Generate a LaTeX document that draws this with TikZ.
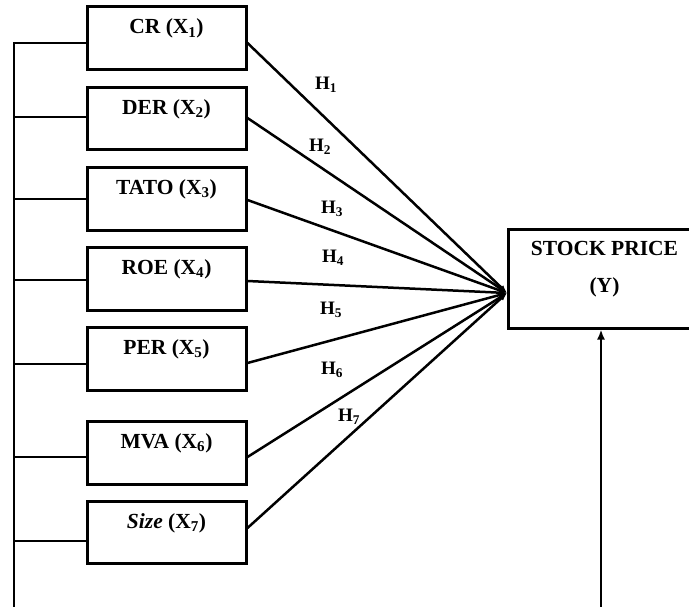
\documentclass[tikz,border=0pt]{standalone}
\usepackage{fontspec}
\setmainfont{Liberation Serif}
\usetikzlibrary{arrows.meta}
\begin{document}
\begin{tikzpicture}[x=1pt,y=-1pt,
  varbox/.style={draw,line width=3pt,minimum width=159pt,inner sep=0pt,
    text height=27pt,text depth=35.5pt,
    font=\fontsize{21.5}{25}\selectfont\bfseries},
  ybox/.style={draw,line width=3pt,minimum width=194pt,minimum height=98pt,inner sep=0pt},
  ytext/.style={anchor=base,inner sep=0pt,font=\fontsize{21.5}{25}\selectfont\bfseries},
  hlab/.style={inner sep=0pt,font=\fontsize{19}{22}\selectfont\bfseries},
  link/.style={line width=2.8pt},
  fan/.style={line width=2.5pt,-{Latex[length=8pt,width=6pt]}},
  up/.style={line width=2.5pt,-{Latex[length=10pt,width=8pt]}}]
\useasboundingbox (0,0) rectangle (689,607);

\node[varbox] (X1) at (166.5,38.25) {CR (X\textsubscript{1})};
\node[varbox] (X2) at (166.5,118.5) {DER (X\textsubscript{2})};
\node[varbox] (X3) at (166.5,199) {TATO (X\textsubscript{3})};
\node[varbox] (X4) at (166.5,279) {ROE (X\textsubscript{4})};
\node[varbox] (X5) at (166.5,359) {PER (X\textsubscript{5})};
\node[varbox] (X6) at (166.5,453) {MVA (X\textsubscript{6})};
\node[varbox] (X7) at (166.5,532.5) {\textit{Size} (X\textsubscript{7})};

\node[ybox] (Y) at (605,279) {};
\node[ytext] (Yt1) at (604.5,255) {STOCK PRICE};
\node[ytext] (Yt2) at (604.5,293) {(Y)};

\coordinate (L) at (14,615);
\coordinate (B) at (601,615);
\coordinate (T) at (507,293);

% left bus
\draw[link] ([yshift=-4.75pt]X1.west) -| (L);
\draw[link] ([yshift=1.5pt]X2.west) -- ([yshift=1.5pt]X2.west -| L);
\draw[link] ([yshift=0pt]X3.west) -- ([yshift=0pt]X3.west -| L);
\draw[link] ([yshift=-1pt]X4.west) -- ([yshift=-1pt]X4.west -| L);
\draw[link] ([yshift=-5pt]X5.west) -- ([yshift=-5pt]X5.west -| L);
\draw[link] ([yshift=-4pt]X6.west) -- ([yshift=-4pt]X6.west -| L);
\draw[link] ([yshift=-8.5pt]X7.west) -- ([yshift=-8.5pt]X7.west -| L);

% fan to Y
\draw[fan] ([yshift=-4.75pt]X1.east) -- (T);
\draw[fan] ([yshift=0.5pt]X2.east) -- (T);
\draw[fan] ([yshift=-1pt]X3.east) -- (T);
\draw[fan] ([yshift=-2pt]X4.east) -- (T);
\draw[fan] ([yshift=-4pt]X5.east) -- (T);
\draw[fan] ([yshift=-4pt]X6.east) -- (T);
\draw[fan] ([yshift=4.5pt]X7.east) -- (T);

\node[hlab] (H1) at (326,85) {H\textsubscript{1}};
\node[hlab] (H2) at (320,147) {H\textsubscript{2}};
\node[hlab] (H3) at (332,209) {H\textsubscript{3}};
\node[hlab] (H4) at (333,258) {H\textsubscript{4}};
\node[hlab] (H5) at (331,310) {H\textsubscript{5}};
\node[hlab] (H6) at (332,370) {H\textsubscript{6}};
\node[hlab] (H7) at (349,417) {H\textsubscript{7}};

\draw[up] (B) -- (B |- Y.south);
\end{tikzpicture}
\end{document}
